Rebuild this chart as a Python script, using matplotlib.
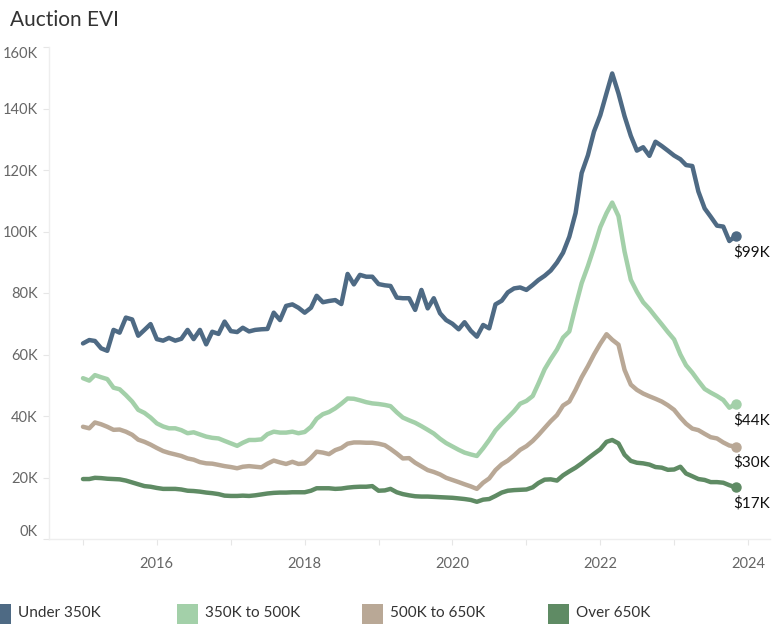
import pandas as pd
import matplotlib
matplotlib.use("Agg")
import matplotlib.pyplot as plt
import matplotlib.dates as mdates
from matplotlib.ticker import FixedLocator, FuncFormatter
from matplotlib.patches import Rectangle

plt.rcParams['font.family'] = ['Lato', 'DejaVu Sans']

# monthly values, Jan 2015 - Nov 2023, in thousands
months = pd.date_range('2015-01-01', periods=107, freq='MS')

under_350 = [63.6, 64.7, 64.4, 62.0, 61.2, 68.0, 67.1, 72.0, 71.4, 66.1,
             68.0, 69.9, 65.0, 64.5, 65.4, 64.5, 65.1, 68.0, 65.0, 68.0,
             63.3, 67.4, 66.7, 70.7, 67.6, 67.3, 68.7, 67.5, 68.0, 68.2,
             68.3, 73.6, 71.2, 75.8, 76.3, 75.2, 73.6, 75.2, 79.1, 77.0,
             77.4, 77.7, 76.4, 86.2, 82.8, 85.9, 85.3, 85.3, 82.9, 82.5,
             82.3, 78.5, 78.3, 78.3, 74.5, 81.0, 75.0, 78.3, 73.4, 71.2,
             70.0, 68.2, 70.5, 67.7, 65.8, 69.6, 68.5, 76.3, 77.5, 80.2,
             81.5, 81.8, 81.0, 82.6, 84.2, 85.6, 87.3, 89.9, 93.1, 98.3,
             106.0, 119.0, 124.8, 132.5, 137.8, 145.0, 151.4, 144.9, 137.5, 131.1,
             126.3, 127.4, 124.6, 129.2, 127.8, 126.3, 124.7, 123.5, 121.6, 121.3,
             113.0, 107.5, 104.8, 101.9, 101.6, 96.9, 98.6]

from_350_to_500 = [52.3, 51.5, 53.3, 52.6, 52.0, 49.2, 48.7, 46.8, 44.7, 42.0,
                   41.0, 39.5, 37.6, 36.6, 36.0, 36.0, 35.4, 34.4, 34.7, 34.0,
                   33.3, 32.9, 32.7, 31.9, 31.1, 30.3, 31.3, 32.2, 32.2, 32.4,
                   34.1, 34.9, 34.6, 34.6, 34.9, 34.4, 34.8, 36.5, 39.1, 40.6,
                   41.3, 42.5, 44.0, 45.7, 45.6, 45.1, 44.5, 44.1, 43.9, 43.6,
                   43.2, 41.2, 39.5, 38.6, 37.8, 36.7, 35.5, 34.3, 32.6, 31.2,
                   30.1, 29.0, 28.1, 27.5, 27.0, 29.5, 32.2, 35.3, 37.5, 39.5,
                   41.6, 44.0, 44.9, 46.5, 50.5, 55.2, 58.5, 61.6, 65.5, 67.5,
                   75.7, 83.2, 88.8, 94.8, 101.4, 106.0, 109.4, 105.0, 93.5, 84.3,
                   80.4, 77.0, 74.8, 72.3, 69.8, 67.3, 64.9, 60.0, 56.5, 54.1,
                   51.4, 48.8, 47.6, 46.5, 45.2, 42.7, 43.9]

from_500_to_650 = [36.5, 36.0, 37.9, 37.3, 36.5, 35.5, 35.6, 34.9, 33.9, 32.3,
                   31.6, 30.7, 29.6, 28.6, 28.0, 27.5, 27.0, 26.2, 25.8, 25.0,
                   24.6, 24.5, 24.1, 23.7, 23.4, 23.0, 23.5, 23.7, 23.5, 23.3,
                   24.5, 25.5, 24.9, 24.4, 25.1, 24.4, 24.6, 26.4, 28.4, 28.1,
                   27.6, 28.9, 29.6, 31.0, 31.4, 31.4, 31.3, 31.3, 31.0, 30.5,
                   29.3, 27.8, 26.2, 26.3, 24.8, 23.6, 22.4, 21.8, 21.0, 19.9,
                   19.2, 18.5, 17.8, 17.1, 16.3, 18.3, 19.7, 22.4, 24.3, 25.5,
                   27.2, 29.0, 30.2, 31.9, 33.8, 36.1, 38.3, 40.3, 43.4, 44.7,
                   48.5, 52.6, 56.2, 60.0, 63.5, 66.6, 64.8, 63.2, 55.0, 50.2,
                   48.5, 47.3, 46.4, 45.6, 44.7, 43.5, 42.0, 39.5, 37.5, 35.9,
                   35.4, 34.2, 33.1, 32.7, 31.4, 30.4, 30.0]

over_650 = [19.5, 19.5, 19.9, 19.8, 19.6, 19.5, 19.4, 19.0, 18.4, 17.8,
            17.2, 17.0, 16.6, 16.3, 16.3, 16.3, 16.1, 15.7, 15.6, 15.4,
            15.1, 14.9, 14.6, 14.1, 14.0, 14.0, 14.1, 14.0, 14.2, 14.5,
            14.8, 15.0, 15.1, 15.1, 15.2, 15.2, 15.2, 15.7, 16.5, 16.5,
            16.5, 16.3, 16.4, 16.7, 16.9, 17.0, 17.0, 17.2, 15.7, 15.8,
            16.3, 15.2, 14.6, 14.2, 13.9, 13.8, 13.8, 13.7, 13.6, 13.5,
            13.4, 13.2, 13.0, 12.7, 12.1, 12.8, 13.0, 14.0, 15.1, 15.7,
            15.9, 16.0, 16.1, 16.8, 18.2, 19.3, 19.4, 19.0, 20.7, 22.0,
            23.2, 24.6, 26.2, 27.7, 29.2, 31.6, 32.2, 31.1, 27.4, 25.4,
            24.8, 24.6, 24.2, 23.4, 23.2, 22.5, 22.6, 23.5, 21.3, 20.4,
            19.5, 19.2, 18.5, 18.5, 18.3, 17.5, 16.8]

names = ['Under 350K', '350K to 500K', '500K to 650K', 'Over 650K']
colors = ['#4e6a84', '#a3d0a9', '#b9a896', '#5f8b64']
series = [under_350, from_350_to_500, from_500_to_650, over_650]

fig = plt.figure(figsize=(7.75, 6.24), dpi=100)
ax = fig.add_axes([49/775, 1 - 539/624, (770 - 49)/775, (539 - 47)/624])

for vals, col in zip(series, colors):
    ax.plot(months, vals, color=col, lw=3.2, solid_joinstyle='round', solid_capstyle='round')
    ax.plot(months[-1], vals[-1], 'o', color=col, ms=6.5)
    ax.annotate(f"${round(vals[-1])}K", (months[-1], vals[-1]), xytext=(-1.5, -11.5),
                textcoords='offset points', ha='left', va='center', fontsize=11, color='#111111')

ax.set_xlim(pd.Timestamp('2014-07-17'), pd.Timestamp('2024-04-19'))
ax.set_ylim(0, 160)

ax.xaxis.set_major_locator(mdates.YearLocator(2))
ax.xaxis.set_major_formatter(mdates.DateFormatter('%Y'))
ax.xaxis.set_minor_locator(mdates.YearLocator(1))
ax.yaxis.set_major_locator(FixedLocator(range(0, 161, 20)))
ax.yaxis.set_major_formatter(FuncFormatter(lambda v, p: f"{int(v)}K"))

ax.tick_params(axis='both', which='both', colors='#e6e6e6', labelcolor='#666666',
               labelsize=10.5, length=4, width=0.8)
ax.tick_params(axis='x', pad=9)
ax.tick_params(axis='y', pad=4)

labels = ax.get_yticklabels()
labels[0].set_va('bottom')
labels[-1].set_va('top')

for s in ['top', 'right']:
    ax.spines[s].set_visible(False)
for s in ['left', 'bottom']:
    ax.spines[s].set_color('#eeeeee')
    ax.spines[s].set_linewidth(1)

fig.text(10/775, 1 - 20/624, 'Auction EVI', fontsize=15, color='#333333', va='center', ha='left')

# legend along the bottom
leg_x = [-10, 177, 362, 548]
for x0, name, col in zip(leg_x, names, colors):
    fig.patches.append(Rectangle((x0/775, 0), 21/775, 20/624, transform=fig.transFigure,
                                 facecolor=col, edgecolor='none'))
    fig.text((x0 + 28)/775, 11/624, name, fontsize=11, color='#333333', va='center', ha='left')

fig.savefig('out.png', dpi=100)
